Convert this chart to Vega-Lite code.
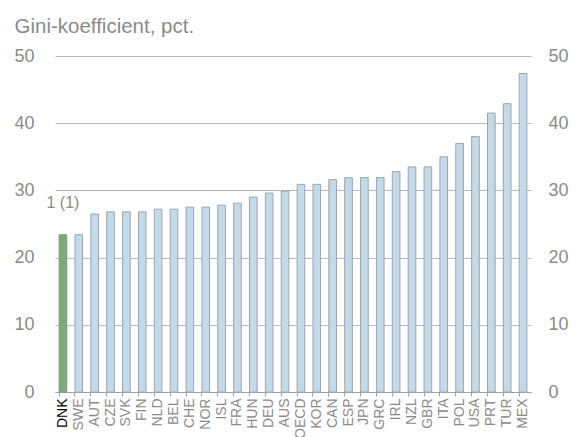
{
  "$schema": "https://vega.github.io/schema/vega-lite/v6.json",
  "autosize": {"type": "none"},
  "width": 476,
  "height": 336,
  "padding": {"left": 55, "top": 56, "right": 46, "bottom": 45},
  "config": {
    "font": "Liberation Sans",
    "view": {"stroke": null},
    "axis": {"labelColor": "#8a8a8a", "titleColor": "#8a8a8a", "labelFont": "Liberation Sans", "titleFont": "Liberation Sans", "titleFontWeight": "normal"}
  },
  "data": {
    "values": [
      {"land": "DNK", "gini": 23.4, "dk": "ja", "note": "1 (1)"},
      {"land": "SWE", "gini": 23.4, "dk": "nej", "note": ""},
      {"land": "AUT", "gini": 26.5, "dk": "nej", "note": ""},
      {"land": "CZE", "gini": 26.8, "dk": "nej", "note": ""},
      {"land": "SVK", "gini": 26.8, "dk": "nej", "note": ""},
      {"land": "FIN", "gini": 26.8, "dk": "nej", "note": ""},
      {"land": "NLD", "gini": 27.2, "dk": "nej", "note": ""},
      {"land": "BEL", "gini": 27.2, "dk": "nej", "note": ""},
      {"land": "CHE", "gini": 27.5, "dk": "nej", "note": ""},
      {"land": "NOR", "gini": 27.5, "dk": "nej", "note": ""},
      {"land": "ISL", "gini": 27.8, "dk": "nej", "note": ""},
      {"land": "FRA", "gini": 28.1, "dk": "nej", "note": ""},
      {"land": "HUN", "gini": 29.0, "dk": "nej", "note": ""},
      {"land": "DEU", "gini": 29.6, "dk": "nej", "note": ""},
      {"land": "AUS", "gini": 29.9, "dk": "nej", "note": ""},
      {"land": "OECD", "gini": 30.9, "dk": "nej", "note": ""},
      {"land": "KOR", "gini": 30.9, "dk": "nej", "note": ""},
      {"land": "CAN", "gini": 31.6, "dk": "nej", "note": ""},
      {"land": "ESP", "gini": 31.9, "dk": "nej", "note": ""},
      {"land": "JPN", "gini": 31.9, "dk": "nej", "note": ""},
      {"land": "GRC", "gini": 31.9, "dk": "nej", "note": ""},
      {"land": "IRL", "gini": 32.8, "dk": "nej", "note": ""},
      {"land": "NZL", "gini": 33.5, "dk": "nej", "note": ""},
      {"land": "GBR", "gini": 33.5, "dk": "nej", "note": ""},
      {"land": "ITA", "gini": 35.0, "dk": "nej", "note": ""},
      {"land": "POL", "gini": 37.0, "dk": "nej", "note": ""},
      {"land": "USA", "gini": 38.0, "dk": "nej", "note": ""},
      {"land": "PRT", "gini": 41.5, "dk": "nej", "note": ""},
      {"land": "TUR", "gini": 42.9, "dk": "nej", "note": ""},
      {"land": "MEX", "gini": 47.4, "dk": "nej", "note": ""}
    ]
  },
  "encoding": {
    "x": {
      "field": "land", "type": "nominal", "sort": null,
      "scale": {"paddingInner": 0.52, "paddingOuter": 0.26},
      "axis": {
        "title": null, "labelAngle": -90, "labelFontSize": 14, "labelPadding": 2,
        "tickSize": 4, "tickColor": "#a0a0a0", "domainColor": "#a0a0a0", "bandPosition": 0,
        "labelColor": {"condition": {"test": "datum.value === 'DNK'", "value": "#000000"}, "value": "#8a8a8a"}
      }
    }
  },
  "layer": [
    {
      "mark": {"type": "bar", "strokeWidth": 1},
      "encoding": {
        "y": {
          "field": "gini", "type": "quantitative",
          "scale": {"domain": [0, 50]},
          "axis": {
            "values": [0, 10, 20, 30, 40, 50], "ticks": false, "domain": false,
            "grid": true, "gridColor": "#b8b8b8", "gridWidth": 1,
            "labelFontSize": 18, "labelPadding": 21,
            "title": "Gini-koefficient, pct.", "titleAngle": 0, "titleAlign": "left",
            "titleBaseline": "alphabetic", "titleFontSize": 20.5, "titleX": -41, "titleY": -24
          }
        },
        "fill": {"field": "dk", "type": "nominal", "scale": {"domain": ["ja", "nej"], "range": ["#7aad76", "#c3dbe8"]}, "legend": null},
        "stroke": {"field": "dk", "type": "nominal", "scale": {"domain": ["ja", "nej"], "range": ["#7f9a7e", "#9aa6ad"]}, "legend": null}
      }
    },
    {
      "mark": {"type": "bar", "opacity": 0},
      "encoding": {
        "y": {
          "field": "gini", "type": "quantitative",
          "scale": {"domain": [0, 50]},
          "axis": {
            "orient": "right", "values": [0, 10, 20, 30, 40, 50], "ticks": false, "domain": false,
            "grid": false, "labelFontSize": 18, "labelPadding": 17, "title": null
          }
        }
      }
    },
    {
      "transform": [{"filter": "datum.note !== ''"}],
      "mark": {"type": "text", "fontSize": 16, "color": "#8a8a8a", "dy": -32, "baseline": "middle"},
      "encoding": {
        "y": {"field": "gini", "type": "quantitative", "scale": {"domain": [0, 50]}, "axis": null},
        "text": {"field": "note"}
      }
    }
  ],
  "resolve": {"scale": {"y": "independent"}}
}
